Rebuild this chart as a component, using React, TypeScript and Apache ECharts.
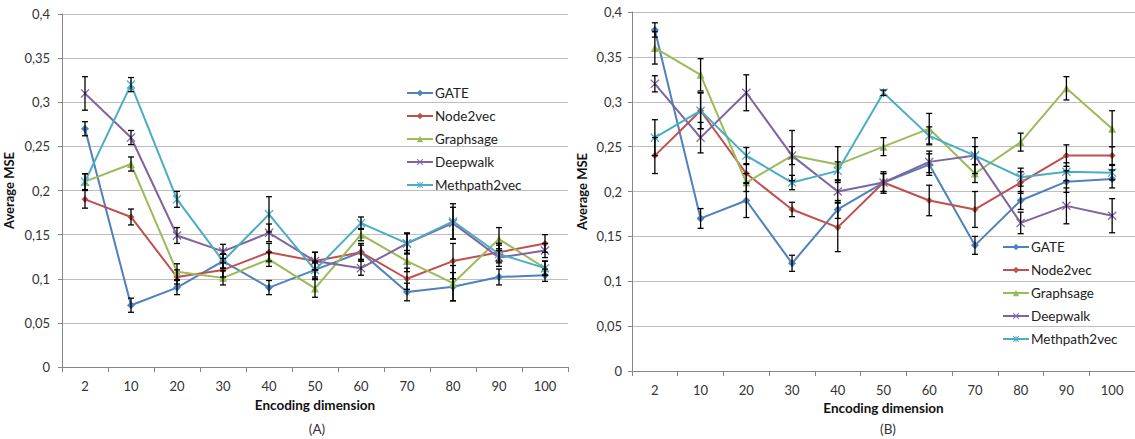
import React, { useEffect, useRef } from "react";
import * as echarts from "echarts";

const categories = ["2", "10", "20", "30", "40", "50", "60", "70", "80", "90", "100"];
const seriesNames = ["GATE", "Node2vec", "Graphsage", "Deepwalk", "Methpath2vec"];
const yTicks = { min: 0, max: 0.4, interval: 0.05 };

// Panel A
const gateA = [0.27, 0.07, 0.09, 0.12, 0.09, 0.11, 0.13, 0.085, 0.091, 0.102, 0.104];
const gateAErr = [0.008, 0.008, 0.008, 0.008, 0.008, 0.01, 0.008, 0.01, 0.016, 0.009, 0.007];
const node2vecA = [0.19, 0.17, 0.102, 0.11, 0.13, 0.12, 0.13, 0.1, 0.12, 0.13, 0.14];
const node2vecAErr = [0.01, 0.009, 0.008, 0.008, 0.01, 0.01, 0.01, 0.012, 0.02, 0.01, 0.01];
const graphsageA = [0.21, 0.23, 0.108, 0.101, 0.122, 0.089, 0.15, 0.12, 0.095, 0.145, 0.112];
const graphsageAErr = [0.009, 0.008, 0.009, 0.008, 0.008, 0.01, 0.007, 0.012, 0.02, 0.013, 0.008];
const deepwalkA = [0.31, 0.26, 0.149, 0.131, 0.152, 0.12, 0.112, 0.14, 0.163, 0.124, 0.132];
const deepwalkAErr = [0.019, 0.008, 0.009, 0.008, 0.01, 0.01, 0.008, 0.012, 0.018, 0.01, 0.008];
const methpathA = [0.21, 0.32, 0.19, 0.12, 0.173, 0.11, 0.163, 0.14, 0.165, 0.128, 0.112];
const methpathAErr = [0.009, 0.008, 0.009, 0.008, 0.02, 0.008, 0.007, 0.011, 0.02, 0.01, 0.008];

// Panel B
const gateB = [0.38, 0.17, 0.19, 0.12, 0.18, 0.21, 0.23, 0.14, 0.19, 0.211, 0.214];
const gateBErr = [0.008, 0.011, 0.019, 0.009, 0.01, 0.01, 0.012, 0.01, 0.01, 0.012, 0.01];
const node2vecB = [0.24, 0.29, 0.22, 0.18, 0.16, 0.21, 0.19, 0.18, 0.21, 0.24, 0.24];
const node2vecBErr = [0.02, 0.02, 0.01, 0.008, 0.027, 0.01, 0.017, 0.02, 0.012, 0.012, 0.01];
const graphsageB = [0.36, 0.33, 0.21, 0.24, 0.23, 0.25, 0.27, 0.22, 0.255, 0.315, 0.27];
const graphsageBErr = [0.018, 0.018, 0.01, 0.01, 0.02, 0.01, 0.017, 0.01, 0.01, 0.013, 0.02];
const deepwalkB = [0.32, 0.26, 0.31, 0.24, 0.2, 0.21, 0.233, 0.24, 0.165, 0.184, 0.173];
const deepwalkBErr = [0.009, 0.017, 0.02, 0.028, 0.012, 0.012, 0.012, 0.02, 0.012, 0.02, 0.019];
const methpathB = [0.26, 0.29, 0.24, 0.21, 0.223, 0.31, 0.262, 0.24, 0.216, 0.222, 0.221];
const methpathBErr = [0.02, 0.02, 0.009, 0.008, 0.01, 0.003, 0.01, 0.01, 0.01, 0.01, 0.008];

const colors = ["#4F81BD", "#C0504D", "#9BBB59", "#8064A2", "#4BACC6"];
const xSym = "path://M0,1L1,0L5,4L9,0L10,1L6,5L10,9L9,10L5,6L1,10L0,9L4,5Z";
const starSym =
  "path://M0,1L1,0L5,4L9,0L10,1L6,5L10,9L9,10L5,6L1,10L0,9L4,5Z M4.4,0L5.6,0L5.6,10L4.4,10Z";
const symbols = ["diamond", "diamond", "triangle", xSym, starSym];
const symbolSizes = [8, 7, 8, 9, 9];

const FONT = "Lato, 'Open Sans', sans-serif";

export default function App() {
  const ref = useRef<HTMLDivElement>(null);

  useEffect(() => {
    if (!ref.current) return;
    const chart = echarts.init(ref.current, undefined, { renderer: "svg" });

    const panelA = [gateA, node2vecA, graphsageA, deepwalkA, methpathA];
    const panelAErr = [gateAErr, node2vecAErr, graphsageAErr, deepwalkAErr, methpathAErr];
    const panelB = [gateB, node2vecB, graphsageB, deepwalkB, methpathB];
    const panelBErr = [gateBErr, node2vecBErr, graphsageBErr, deepwalkBErr, methpathBErr];

    const fmt = (v: number) => String(+v.toFixed(2)).replace(".", ",");

    const mkX = (gridIndex: number, nameGap: number) => ({
      type: "category",
      gridIndex,
      data: categories,
      boundaryGap: true,
      name: "Encoding dimension",
      nameLocation: "middle",
      nameGap,
      nameTextStyle: { fontFamily: FONT, fontSize: 13.5, fontWeight: "bold", color: "#111" },
      axisLine: { show: true, lineStyle: { color: "#868686", width: 1 } },
      axisTick: { show: true, length: 5, lineStyle: { color: "#868686" } },
      axisLabel: { fontFamily: FONT, fontSize: 13, color: "#333", margin: 12 },
      splitLine: { show: false },
    });

    const mkY = (gridIndex: number, nameGap: number, margin: number) => ({
      type: "value",
      gridIndex,
      min: yTicks.min,
      max: yTicks.max,
      interval: yTicks.interval,
      name: "Average MSE",
      nameLocation: "middle",
      nameGap,
      nameTextStyle: { fontFamily: FONT, fontSize: 13, fontWeight: "bold", color: "#111" },
      axisLine: { show: true, lineStyle: { color: "#868686", width: 1 } },
      axisTick: { show: true, length: 4, lineStyle: { color: "#868686" } },
      axisLabel: { fontFamily: FONT, fontSize: 13, color: "#333", margin, formatter: fmt },
      splitLine: { show: true, lineStyle: { color: "#BEBEBE", width: 1 } },
    });

    const lineSeries = (panel: number[][], axisIndex: number) =>
      panel.map((vals, k) => ({
        type: "line",
        name: seriesNames[k],
        xAxisIndex: axisIndex,
        yAxisIndex: axisIndex,
        data: vals,
        symbol: symbols[k],
        symbolSize: symbolSizes[k],
        showSymbol: true,
        color: colors[k],
        lineStyle: { color: colors[k], width: 2 },
        itemStyle: { color: colors[k] },
        z: 2,
      }));

    const errSeries = (panel: number[][], errs: number[][], axisIndex: number) => {
      const data: number[][] = [];
      panel.forEach((vals, k) => {
        vals.forEach((v, i) => {
          data.push([i, v - errs[k][i], v + errs[k][i]]);
        });
      });
      return {
        type: "custom",
        name: "err" + axisIndex,
        xAxisIndex: axisIndex,
        yAxisIndex: axisIndex,
        data,
        encode: { x: 0, y: [1, 2] },
        z: 5,
        silent: true,
        renderItem: (params: any, api: any) => {
          const x = api.value(0);
          const lo = api.coord([x, api.value(1)]);
          const hi = api.coord([x, api.value(2)]);
          const c = 3;
          const st = { stroke: "#000", lineWidth: 1.3 };
          return {
            type: "group",
            children: [
              { type: "line", shape: { x1: lo[0], y1: lo[1], x2: hi[0], y2: hi[1] }, style: st },
              { type: "line", shape: { x1: lo[0] - c, y1: lo[1], x2: lo[0] + c, y2: lo[1] }, style: st },
              { type: "line", shape: { x1: hi[0] - c, y1: hi[1], x2: hi[0] + c, y2: hi[1] }, style: st },
            ],
          };
        },
      };
    };

    const legendBase = {
      orient: "vertical",
      data: seriesNames,
      itemWidth: 26,
      itemHeight: 8,
      itemGap: 9,
      textStyle: { fontFamily: FONT, fontSize: 13.5, color: "#222", padding: [0, 0, 0, -3] },
      selectedMode: false,
    };

    chart.setOption({
      animation: false,
      backgroundColor: "#fff",
      textStyle: { fontFamily: FONT },
      grid: [
        { left: 62, top: 14, width: 506, height: 353 },
        { left: 632, top: 12, width: 503, height: 359 },
      ],
      xAxis: [mkX(0, 31), mkX(1, 28)],
      yAxis: [mkY(0, 47, 12), mkY(1, 44, 10)],
      legend: [
        { ...legendBase, left: 401, top: 81 },
        { ...legendBase, left: 997, top: 235 },
      ],
      graphic: [
        {
          type: "text",
          x: 317,
          y: 429,
          style: { text: "(A)", fontFamily: FONT, fontSize: 13.5, fill: "#333", align: "center", verticalAlign: "middle" },
        },
        {
          type: "text",
          x: 888,
          y: 429,
          style: { text: "(B)", fontFamily: FONT, fontSize: 13.5, fill: "#333", align: "center", verticalAlign: "middle" },
        },
      ],
      series: [
        ...lineSeries(panelA, 0),
        ...lineSeries(panelB, 1),
        errSeries(panelA, panelAErr, 0),
        errSeries(panelB, panelBErr, 1),
      ],
    });

    return () => chart.dispose();
  }, []);

  return (
    <div
      ref={ref}
      style={{ position: "absolute", left: 0, top: 0, width: 1135, height: 439 }}
    />
  );
}
